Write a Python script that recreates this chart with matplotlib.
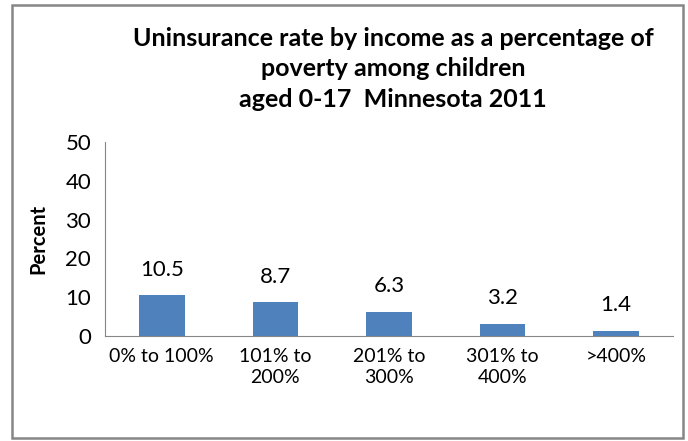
import matplotlib.pyplot as plt
from matplotlib.patches import Rectangle

plt.rcParams['font.family'] = ['Lato', 'DejaVu Sans']

# data
categories = ["0% to 100%", "101% to\n200%", "201% to\n300%", "301% to\n400%", ">400%"]
values = [10.5, 8.7, 6.3, 3.2, 1.4]
yticks = [0, 10, 20, 30, 40, 50]

fig = plt.figure(figsize=(6.88, 4.41), dpi=100)
ax = fig.add_axes([105/688, 1 - 336/441, (673 - 105)/688, (336 - 142)/441])

x = range(len(categories))
ax.bar(x, values, width=0.4, color='#4F81BD')
for i, v in zip(x, values):
    ax.text(i, v + 6.6, f"{v:.1f}", ha='center', va='center', fontsize=16)

ax.set_xlim(-0.5, len(categories) - 0.5)
ax.set_ylim(0, 50)
ax.set_yticks(yticks)
ax.set_xticks(list(x))
ax.set_xticklabels(categories, fontsize=14, linespacing=1.25, va='top')
ax.tick_params(axis='x', length=0, pad=9)
ax.tick_params(axis='y', length=0, labelsize=16, pad=10)
for s in ['top', 'right']:
    ax.spines[s].set_visible(False)
ax.spines['left'].set_color('#868686')
ax.spines['bottom'].set_color('#868686')
ax.set_ylabel("Percent", fontsize=14.5, fontweight='bold', labelpad=12)

fig.text(393/688, 1 - 69/441,
         "Uninsurance rate by income as a percentage of\npoverty among children\naged 0-17  Minnesota 2011",
         ha='center', va='center', fontsize=18, fontweight='bold', linespacing=1.38)

# outer frame
fig.patches.append(Rectangle((12/688, 3/441), (683 - 12)/688, (437 - 4)/441,
                             transform=fig.transFigure, fill=False,
                             edgecolor='#868686', linewidth=1.8))

fig.savefig("out.png", dpi=100)
